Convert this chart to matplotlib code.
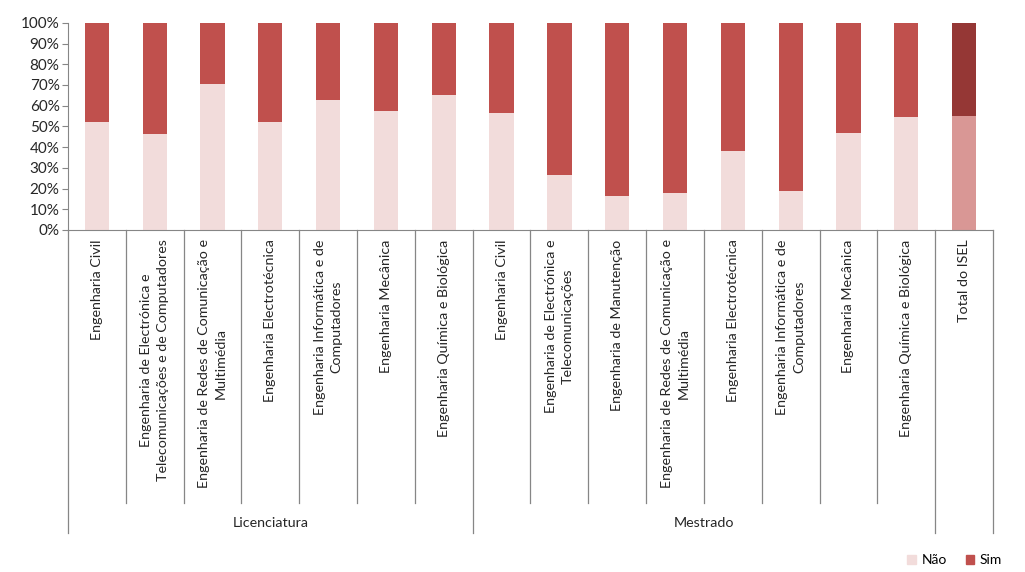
import matplotlib.pyplot as plt
import matplotlib.transforms as mtransforms
from matplotlib.patches import Patch
from matplotlib.ticker import PercentFormatter

plt.rcParams['font.family'] = ['Lato', 'DejaVu Sans']

# categorias (cursos) e grupo a que pertencem
cursos = [
    'Engenharia Civil',
    'Engenharia de Electrónica e\nTelecomunicações e de Computadores',
    'Engenharia de Redes de Comunicação e\nMultimédia',
    'Engenharia Electrotécnica',
    'Engenharia Informática e de\nComputadores',
    'Engenharia Mecânica',
    'Engenharia Química e Biológica',
    'Engenharia Civil',
    'Engenharia de Electrónica e\nTelecomunicações',
    'Engenharia de Manutenção',
    'Engenharia de Redes de Comunicação e\nMultimédia',
    'Engenharia Electrotécnica',
    'Engenharia Informática e de\nComputadores',
    'Engenharia Mecânica',
    'Engenharia Química e Biológica',
    'Total do ISEL',
]
grupos = ['Licenciatura', 'Mestrado', '']
grupo_n = [7, 8, 1]

# percentagens
nao = [52.0, 46.5, 70.6, 52.0, 62.9, 57.4, 65.1,
       56.6, 26.5, 16.5, 18.0, 38.1, 18.8, 46.6, 54.4, 55.2]
sim = [48.0, 53.5, 29.4, 48.0, 37.1, 42.6, 34.9,
       43.4, 73.5, 83.5, 82.0, 61.9, 81.2, 53.4, 45.6, 44.8]

cor_nao, cor_sim = '#F2DCDB', '#C0504D'
cor_nao_tot, cor_sim_tot = '#D99795', '#953735'
cinza = '#868686'

fig = plt.figure(figsize=(10.25, 5.72), dpi=100)
ax = fig.add_axes([0.0663, 0.598, 0.9025, 0.362])

x = list(range(len(cursos)))
c_nao = [cor_nao_tot if c == 'Total do ISEL' else cor_nao for c in cursos]
c_sim = [cor_sim_tot if c == 'Total do ISEL' else cor_sim for c in cursos]
ax.bar(x, nao, width=0.42, color=c_nao, label='Não')
ax.bar(x, sim, bottom=nao, width=0.42, color=c_sim, label='Sim')

ax.set_xlim(-0.5, len(cursos) - 0.5)
ax.set_ylim(0, 100)
ax.set_yticks(range(0, 101, 10))
ax.yaxis.set_major_formatter(PercentFormatter(decimals=0))
ax.tick_params(axis='y', labelsize=11, length=4, color=cinza, labelcolor='#262626', pad=2)
ax.set_xticks([])
for s in ['top', 'right']:
    ax.spines[s].set_visible(False)
for s in ['left', 'bottom']:
    ax.spines[s].set_color(cinza)

# eixo de categorias em dois níveis
trans = mtransforms.blended_transform_factory(ax.transData, ax.transAxes)
for i, c in enumerate(cursos):
    ax.text(i, -0.045, c, rotation=90, ha='center', va='top', multialignment='center',
            fontsize=10.3, color='#262626', transform=trans, linespacing=1.45)

fronteiras = []
pos = -0.5
for g, n in zip(grupos, grupo_n):
    fronteiras.append(pos)
    for k in range(1, n):
        ax.plot([pos + k, pos + k], [0, -1.32], color=cinza, lw=0.9,
                transform=trans, clip_on=False)
    if g:
        ax.text(pos + n / 2, -1.415, g, ha='center', va='center', fontsize=10.3,
                color='#262626', transform=trans)
    pos += n
fronteiras.append(pos)
for b in fronteiras:
    ax.plot([b, b], [0, -1.465], color=cinza, lw=0.9, transform=trans, clip_on=False)

handles = [Patch(color=cor_nao, label='Não'), Patch(color=cor_sim, label='Sim')]
fig.legend(handles=handles, loc='lower right', bbox_to_anchor=(0.99, -0.012), ncol=2,
           frameon=False, fontsize=10, handlelength=0.6, handleheight=0.6,
           handletextpad=0.4, columnspacing=1.4)

fig.savefig('out.png', dpi=100)
